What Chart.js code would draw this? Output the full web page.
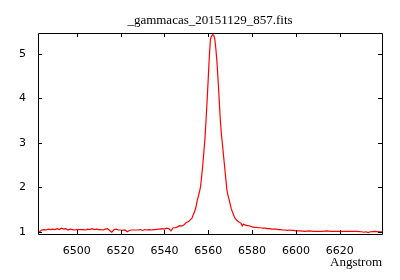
<!DOCTYPE html>
<html>
<head>
<meta charset="utf-8">
<script src="https://cdn.jsdelivr.net/npm/chart.js@4/dist/chart.umd.min.js"></script>
<style>
  html, body { margin: 0; padding: 0; background: #fff; }
  #wrap { width: 400px; height: 280px; }
</style>
</head>
<body>
<div id="wrap"><canvas id="spec"></canvas></div>
<script>
// spectrum
const wavelength = [
  6482.5, 6483, 6484, 6485, 6486, 6487, 6488, 6489, 6490, 6491, 6492, 6493, 6494, 6495, 6496, 6497, 6498, 6499,
  6500, 6501, 6502, 6503, 6504, 6505, 6506, 6507, 6508, 6509, 6510, 6511, 6512, 6513, 6514, 6515, 6516, 6517,
  6518, 6519, 6520, 6521, 6522, 6523, 6524, 6525, 6526, 6527, 6528, 6529, 6530, 6531, 6532, 6533, 6534, 6535,
  6536, 6537, 6538, 6539, 6540, 6541, 6542, 6543, 6544, 6545, 6546, 6547, 6548, 6549, 6550, 6551, 6552,
  6552.5, 6553, 6553.5, 6554, 6554.5, 6555, 6555.5, 6556, 6556.5, 6557, 6557.5, 6558, 6558.5, 6559, 6559.5,
  6560, 6560.5, 6561, 6561.5, 6562, 6562.5, 6563, 6563.5, 6564, 6564.5, 6565, 6565.5, 6566, 6566.5, 6567,
  6567.5, 6568, 6568.5, 6569, 6569.5, 6570, 6570.5, 6571, 6571.5, 6572, 6572.5, 6573, 6574, 6575, 6575.5,
  6576, 6577, 6578, 6579, 6580, 6581, 6582, 6583, 6584, 6585, 6586, 6587, 6588, 6589, 6590, 6591, 6592,
  6593, 6594, 6595, 6596, 6597, 6598, 6599, 6600, 6602, 6604, 6606, 6608, 6610, 6612, 6614, 6616, 6618,
  6620, 6622, 6624, 6626, 6628, 6630, 6631, 6632, 6633, 6634, 6636, 6638, 6639.3
];
const flux = [
  0.99, 1.00, 1.04, 1.05, 1.04, 1.06, 1.05, 1.06, 1.05, 1.07, 1.05, 1.08, 1.06, 1.07, 1.04, 1.06, 1.05, 1.04,
  1.05, 1.05, 1.05, 1.05, 1.04, 1.06, 1.05, 1.07, 1.05, 1.06, 1.05, 1.05, 1.04, 1.06, 1.07, 1.03, 0.99, 1.05,
  1.06, 1.04, 1.04, 1.03, 1.04, 1.00, 1.03, 1.04, 1.04, 1.04, 1.04, 1.05, 1.03, 1.05, 1.04, 1.05, 1.04, 1.05,
  1.05, 1.06, 1.06, 1.07, 1.06, 1.08, 1.07, 1.02, 1.09, 1.09, 1.11, 1.14, 1.13, 1.16, 1.21, 1.23, 1.28,
  1.30, 1.36, 1.42, 1.49, 1.58, 1.71, 1.80, 1.90, 2.02, 2.25, 2.50, 2.80, 3.10, 3.52, 3.97,
  4.45, 4.95, 5.33, 5.40, 5.43, 5.42, 5.33, 5.10, 4.80, 4.40, 3.97, 3.52, 3.20, 2.95, 2.70,
  2.45, 2.20, 1.94, 1.82, 1.73, 1.62, 1.52, 1.45, 1.39, 1.32, 1.29, 1.26, 1.22, 1.19, 1.13,
  1.17, 1.15, 1.14, 1.13, 1.11, 1.10, 1.10, 1.09, 1.09, 1.08, 1.08, 1.07, 1.07, 1.06, 1.06, 1.06, 1.05,
  1.05, 1.04, 1.04, 1.03, 1.04, 1.03, 1.03, 1.02, 1.02, 1.01, 1.02, 1.01, 1.01, 1.01, 1.02, 1.01, 1.01,
  1.01, 1.01, 1.01, 1.01, 1.01, 1.00, 0.99, 1.00, 0.98, 1.00, 1.01, 1.00, 1.00
];
const xTicks = [6500, 6520, 6540, 6560, 6580, 6600, 6620];
const yTicks = [1, 2, 3, 4, 5];

const points = wavelength.map((w, i) => ({ x: w, y: flux[i] }));

// black box with inward ticks on all four sides (gnuplot style)
const frame = {
  id: "frame",
  afterDraw(chart) {
    const c = chart.ctx;
    const a = chart.chartArea;
    const sx = chart.scales.x;
    const sy = chart.scales.y;
    c.save();
    c.strokeStyle = "#000";
    c.lineWidth = 1;
    c.beginPath();
    c.rect(Math.round(a.left) + 0.5, Math.round(a.top) + 0.5,
      Math.round(a.right - a.left), Math.round(a.bottom - a.top));
    xTicks.forEach((v) => {
      const px = Math.round(sx.getPixelForValue(v)) + 0.5;
      c.moveTo(px, a.bottom); c.lineTo(px, a.bottom - 4);
      c.moveTo(px, a.top); c.lineTo(px, a.top + 4);
    });
    yTicks.forEach((v) => {
      const py = Math.round(sy.getPixelForValue(v)) + 0.5;
      c.moveTo(a.left, py); c.lineTo(a.left + 4, py);
      c.moveTo(a.right, py); c.lineTo(a.right - 4, py);
    });
    c.stroke();
    c.restore();
  },
};

new Chart(document.getElementById("spec"), {
  type: "line",
  data: {
    datasets: [
      {
        data: points,
        borderColor: "#ff0000",
        borderWidth: 1.2,
        pointRadius: 0,
        tension: 0,
        fill: false,
      },
    ],
  },
  options: {
    responsive: true,
    maintainAspectRatio: false,
    animation: false,
    layout: { padding: { left: 0, right: 18, top: 0, bottom: 0 } },
    plugins: {
      legend: { display: false },
      tooltip: { enabled: false },
      title: {
        display: true,
        fullSize: false,
        text: "_gammacas_20151129_857.fits",
        color: "#000",
        font: { family: "Liberation Serif", size: 13, weight: "normal", lineHeight: 1.2 },
        padding: { top: 13, bottom: 4.4 },
      },
    },
    scales: {
      x: {
        type: "linear",
        min: 6482.3,
        max: 6639.3,
        afterFit: (s) => { s.height = 46; },
        afterBuildTicks: (s) => { s.ticks = xTicks.map((v) => ({ value: v })); },
        grid: { display: false, drawTicks: false },
        border: { display: false },
        ticks: {
          color: "#000",
          padding: 11,
          maxRotation: 0,
          font: { family: "DejaVu Sans", size: 11 },
          callback: (v) => String(v),
        },
        title: {
          display: true,
          text: "Angstrom",
          align: "end",
          color: "#000",
          font: { family: "Liberation Serif", size: 13 },
          padding: { top: 2, bottom: 10 },
        },
      },
      y: {
        type: "linear",
        min: 0.95,
        max: 5.47,
        afterFit: (s) => { s.width = 38; },
        afterBuildTicks: (s) => { s.ticks = yTicks.map((v) => ({ value: v })); },
        grid: { display: false, drawTicks: false },
        border: { display: false },
        ticks: {
          color: "#000",
          padding: 12,
          font: { family: "DejaVu Sans", size: 11 },
          callback: (v) => String(v),
        },
      },
    },
  },
  plugins: [frame],
});
</script>
</body>
</html>
